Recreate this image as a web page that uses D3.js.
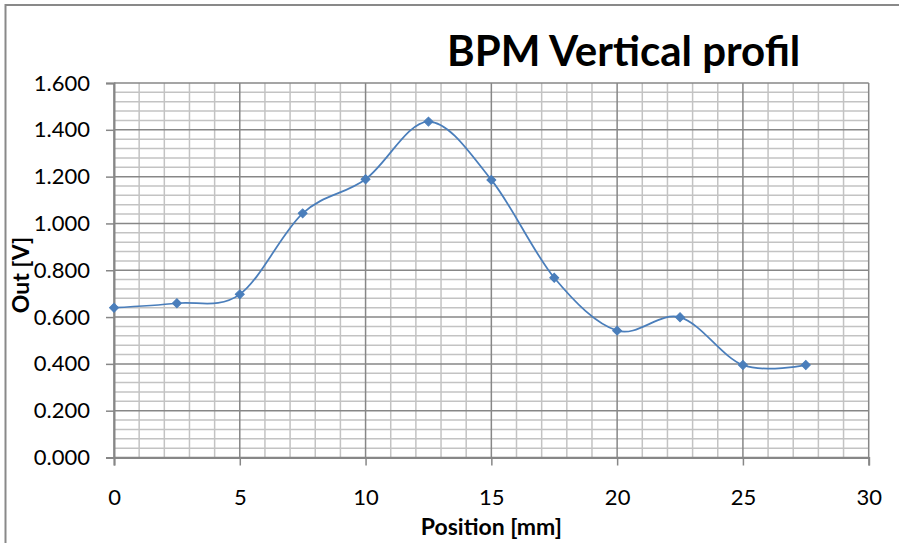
<!DOCTYPE html>
<html>
<head>
<meta charset="utf-8">
<script src="https://cdn.jsdelivr.net/npm/d3@7"></script>
<style>
  body { margin: 0; background: #fff; }
  text { font-family: Lato, "Open Sans", sans-serif; fill: #000; }
</style>
</head>
<body>
<div class="chart"></div>
<script>
// Chart data
var positions = [0, 2.5, 5, 7.5, 10, 12.5, 15, 17.5, 20, 22.5, 25, 27.5];
var outValues = [0.640, 0.659, 0.697, 1.043, 1.189, 1.435, 1.186, 0.768, 0.542, 0.599, 0.395, 0.395];
var xTicks = [0, 5, 10, 15, 20, 25, 30];
var yTicks = [0, 0.2, 0.4, 0.6, 0.8, 1.0, 1.2, 1.4, 1.6];
var chartTitle = "BPM Vertical profil";
var xTitle = "Position [mm]";
var yTitle = "Out [V]";

// Create SVG container
var svgWidth = 899;
var svgHeight = 543;

// Margins
var margin = {
  top: 83,
  right: 30.3,
  bottom: 85.5,
  left: 114
};

var width = svgWidth - margin.left - margin.right;
var height = svgHeight - margin.top - margin.bottom;

var svg = d3
  .select(".chart")
  .append("svg")
  .attr("width", svgWidth)
  .attr("height", svgHeight);

// outer chart border (cropped at right and bottom)
svg.append("rect")
  .attr("x", 5.5)
  .attr("y", 5)
  .attr("width", 1200)
  .attr("height", 1200)
  .attr("fill", "none")
  .attr("stroke", "#898989")
  .attr("stroke-width", 2);

var chartGroup = svg.append("g")
  .attr("transform", `translate(${margin.left}, ${margin.top})`);

// scales
var xLinearScale = d3.scaleLinear()
  .domain([0, 30])
  .range([0, width]);

var yLinearScale = d3.scaleLinear()
  .domain([0, 1.6])
  .range([height, 0]);

// minor gridlines
var minorX = d3.range(0, 30.001, 1).filter(d => d % 5 !== 0);
var minorY = d3.range(0, 1.6001, 0.04).filter(d => Math.abs(d / 0.2 - Math.round(d / 0.2)) > 0.01);

chartGroup.selectAll(".minor-x")
  .data(minorX)
  .enter()
  .append("line")
  .attr("x1", d => xLinearScale(d))
  .attr("x2", d => xLinearScale(d))
  .attr("y1", 0)
  .attr("y2", height)
  .attr("stroke", "#c3c3c3")
  .attr("stroke-width", 1.5);

chartGroup.selectAll(".minor-y")
  .data(minorY)
  .enter()
  .append("line")
  .attr("x1", 0)
  .attr("x2", width)
  .attr("y1", d => yLinearScale(d))
  .attr("y2", d => yLinearScale(d))
  .attr("stroke", "#c3c3c3")
  .attr("stroke-width", 1.5);

// major gridlines
chartGroup.selectAll(".major-x")
  .data(xTicks)
  .enter()
  .append("line")
  .attr("x1", d => xLinearScale(d))
  .attr("x2", d => xLinearScale(d))
  .attr("y1", 0)
  .attr("y2", height)
  .attr("stroke", "#878787")
  .attr("stroke-width", 1.5);

chartGroup.selectAll(".major-y")
  .data(yTicks)
  .enter()
  .append("line")
  .attr("x1", 0)
  .attr("x2", width)
  .attr("y1", d => yLinearScale(d))
  .attr("y2", d => yLinearScale(d))
  .attr("stroke", "#878787")
  .attr("stroke-width", 1.5);

// axes
var bottomAxis = d3.axisBottom(xLinearScale)
  .tickValues(xTicks)
  .tickSize(8)
  .tickPadding(24)
  .tickFormat(d3.format("d"));

var leftAxis = d3.axisLeft(yLinearScale)
  .tickValues(yTicks)
  .tickSize(8)
  .tickPadding(16)
  .tickFormat(d3.format(".3f"));

var xAxis = chartGroup.append("g")
  .attr("transform", `translate(0, ${height})`)
  .call(bottomAxis);

var yAxis = chartGroup.append("g")
  .call(leftAxis);

[xAxis, yAxis].forEach(function(axis) {
  axis.select(".domain")
    .attr("stroke", "#878787")
    .attr("stroke-width", 2);
  axis.selectAll(".tick line")
    .attr("stroke", "#878787")
    .attr("stroke-width", 1.5);
  axis.selectAll(".tick text")
    .style("font-family", "Lato, sans-serif")
    .style("font-size", "22px")
    .attr("fill", "#000");
});

// smoothed line
var points = positions.map((p, i) => [p, outValues[i]]);

var lineGen = d3.line()
  .x(d => xLinearScale(d[0]))
  .y(d => yLinearScale(d[1]))
  .curve(d3.curveCatmullRom.alpha(0));

chartGroup.append("path")
  .datum(points)
  .attr("d", lineGen)
  .attr("fill", "none")
  .attr("stroke", "#4a7ebb")
  .attr("stroke-width", 1.75);

// diamond markers
chartGroup.selectAll(".marker")
  .data(points)
  .enter()
  .append("path")
  .attr("d", d3.symbol().type(d3.symbolSquare).size(40))
  .attr("transform", d => `translate(${xLinearScale(d[0])}, ${yLinearScale(d[1])}) rotate(45)`)
  .attr("fill", "#4a7ebb")
  .attr("stroke", "#4a7ebb")
  .attr("stroke-width", 1);

// titles
svg.append("text")
  .attr("x", 447)
  .attr("y", 66)
  .style("font-size", "42px")
  .style("font-weight", "bold")
  .text(chartTitle);

svg.append("text")
  .attr("x", margin.left + width / 2)
  .attr("y", 535)
  .attr("text-anchor", "middle")
  .style("font-size", "23px")
  .style("font-weight", "bold")
  .text(xTitle);

svg.append("text")
  .attr("transform", "translate(29, 275) rotate(-90)")
  .attr("text-anchor", "middle")
  .style("font-size", "23px")
  .style("font-weight", "bold")
  .text(yTitle);
</script>
</body>
</html>
